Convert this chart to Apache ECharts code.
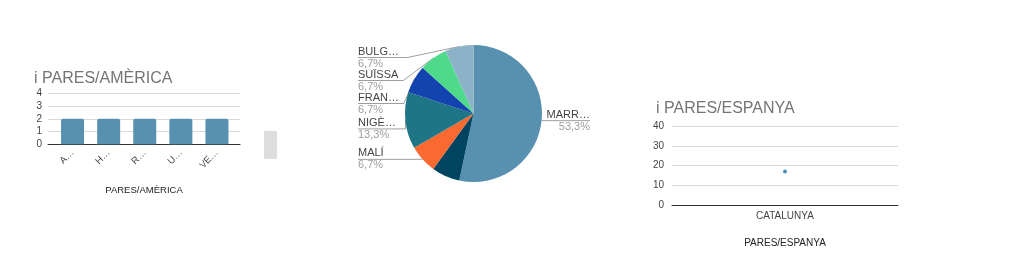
<!DOCTYPE html>
<html><head><meta charset="utf-8">
<script src="https://cdn.jsdelivr.net/npm/echarts@6/dist/echarts.min.js"></script>
<style>html,body{margin:0;padding:0;background:#fff}#c{width:1024px;height:261px}</style>
</head><body><div id="c"></div>
<script>
// Left: bars PARES/AMÈRICA
const americaCats = ['A…', 'H…', 'R…', 'U…', 'VE…'];
const americaVals = [2, 2, 2, 2, 2];
const americaTicks = [0, 1, 2, 3, 4];
// Middle: pie
const pieNames = ['MARR…', 'ALTRES', 'MALÍ', 'NIGÈ…', 'FRAN…', 'SUÏSSA', 'BULG…'];
const pieVals = [8, 1, 1, 2, 1, 1, 1];
const pieColors = ['#5891b0', '#004460', '#fa6a30', '#1e7585', '#1343ae', '#4fd98a', '#8bb2c7'];
const pieHiddenLabel = ['ALTRES'];
// Right: PARES/ESPANYA
const espanyaCats = ['CATALUNYA'];
const espanyaVals = [17];
const espanyaTicks = [0, 10, 20, 30, 40];

const FONT = 'Liberation Sans, Arial, sans-serif';
const pieTotal = pieVals.reduce((a, b) => a + b, 0);
const chart = echarts.init(document.getElementById('c'), null, {renderer: 'canvas'});
const axisLbl = {color: '#444', fontSize: 10, fontFamily: FONT};
const gridLine = {lineStyle: {color: '#d9d9d9', width: 1}};

chart.setOption({
  animation: false,
  textStyle: {fontFamily: FONT},
  title: [
    {text: 'i PARES/AMÈRICA', left: 29, top: 66, textStyle: {fontSize: 16, fontWeight: 'normal', color: '#757575', fontFamily: FONT}},
    {text: 'i PARES/ESPANYA', left: 651, top: 96, textStyle: {fontSize: 16, fontWeight: 'normal', color: '#757575', fontFamily: FONT}}
  ],
  graphic: [{type: 'rect', shape: {x: 264, y: 131, width: 13, height: 28}, style: {fill: '#dedede'}}],
  grid: [
    {left: 48, width: 192, top: 93.3, height: 51},
    {left: 54.5, width: 180.5, top: 93.3, height: 51},
    {left: 672, width: 226, top: 126, height: 79}
  ],
  xAxis: [
    {gridIndex: 0, type: 'category', data: americaCats, axisLine: {lineStyle: {color: '#333'}}, axisTick: {show: false}, axisLabel: {show: false},
     name: 'PARES/AMÈRICA', nameLocation: 'middle', nameGap: 41, nameTextStyle: {color: '#222', fontSize: 9.5, fontFamily: FONT}},
    {gridIndex: 1, type: 'category', data: americaCats, axisLine: {show: false}, axisTick: {show: false},
     axisLabel: {color: '#444', fontSize: 9.5, fontFamily: FONT, rotate: 45, margin: 7, interval: 0}},
    {gridIndex: 2, type: 'category', data: espanyaCats, axisLine: {lineStyle: {color: '#333'}}, axisTick: {show: false},
     axisLabel: Object.assign({}, axisLbl, {margin: 6}),
     name: 'PARES/ESPANYA', nameLocation: 'middle', nameGap: 33, nameTextStyle: {color: '#222', fontSize: 10, fontFamily: FONT}}
  ],
  yAxis: [
    {gridIndex: 0, type: 'value', min: americaTicks[0], max: americaTicks[americaTicks.length - 1], interval: 1,
     axisLine: {show: false}, axisTick: {show: false}, axisLabel: Object.assign({}, axisLbl, {margin: 6}), splitLine: gridLine},
    {gridIndex: 1, type: 'value', min: americaTicks[0], max: americaTicks[americaTicks.length - 1], interval: 1,
     show: false, splitLine: {show: false}},
    {gridIndex: 2, type: 'value', min: espanyaTicks[0], max: espanyaTicks[espanyaTicks.length - 1], interval: 10,
     axisLine: {show: false}, axisTick: {show: false}, axisLabel: Object.assign({}, axisLbl, {margin: 8}), splitLine: gridLine}
  ],
  series: [
    {type: 'bar', xAxisIndex: 1, yAxisIndex: 1, data: americaVals, barWidth: 23,
     itemStyle: {color: '#5891b0', borderRadius: [2, 2, 0, 0]}},
    {type: 'pie', left: 358, width: 232, top: 46, height: 200, center: [115.5, 67.5], radius: 68.5,
     startAngle: 90, clockwise: true,
     data: pieNames.map((n, i) => ({name: n, value: pieVals[i], itemStyle: {color: pieColors[i]},
        label: {show: pieHiddenLabel.indexOf(n) < 0}, labelLine: {show: pieHiddenLabel.indexOf(n) < 0}})),
     label: {alignTo: 'edge', edgeDistance: 0, minMargin: 0, width: 44, overflow: 'none',
       formatter: p => '{n|' + p.name + '}\n{p|' + (p.value / pieTotal * 100).toFixed(1).replace('.', ',') + '%}',
       rich: {n: {color: '#444', fontSize: 11, fontFamily: FONT, lineHeight: 12}, p: {color: '#9e9e9e', fontSize: 11, fontFamily: FONT, lineHeight: 12}}},
     labelLine: {length: 0, length2: 6, lineStyle: {color: '#9e9e9e', width: 1}},
     labelLayout: function (params) {
       const pts = params.labelLinePoints;
       if (!pts) return {};
       const isLeft = params.labelRect.x < 473;
       pts[2][0] = isLeft ? params.labelRect.x : params.labelRect.x + params.labelRect.width;
       return {labelLinePoints: pts};
     }
    },
    {type: 'line', xAxisIndex: 2, yAxisIndex: 2, data: espanyaVals, symbol: 'circle', symbolSize: 4,
     itemStyle: {color: '#4a8fc0'}, lineStyle: {width: 0}}
  ]
});
</script></body></html>
